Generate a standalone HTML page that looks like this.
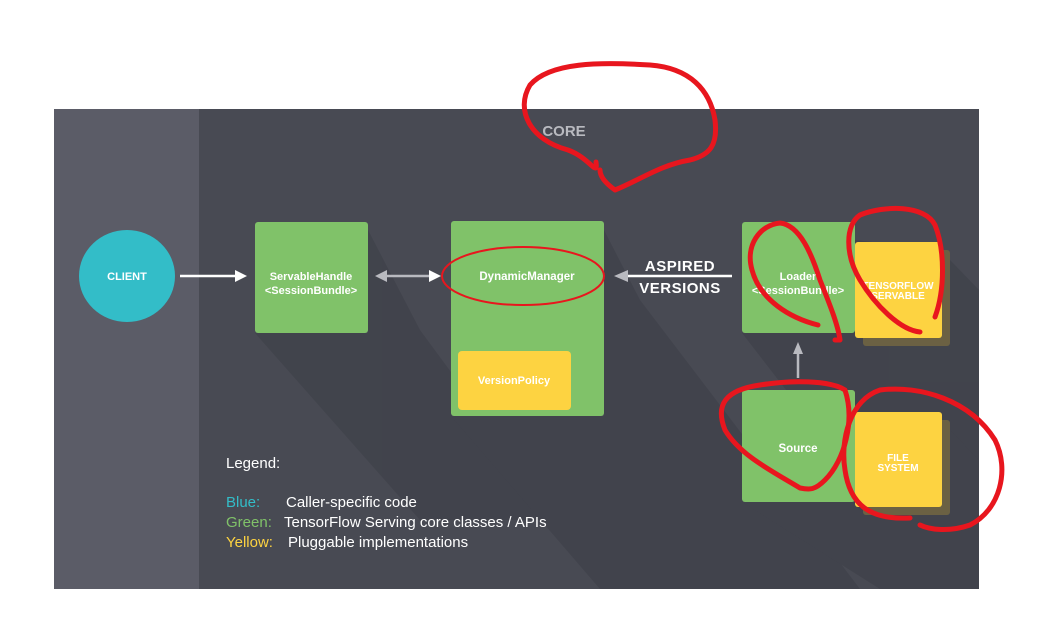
<!DOCTYPE html>
<html><head><meta charset="utf-8"><style>
html,body{margin:0;padding:0;background:#fff;width:1061px;height:620px;overflow:hidden}
svg{display:block}
text{font-family:"Liberation Sans",sans-serif}
</style></head><body>
<svg width="1061" height="620" viewBox="0 0 1061 620" xmlns="http://www.w3.org/2000/svg">
<defs>
<clipPath id="pc"><rect x="199" y="109" width="780" height="480"/></clipPath>
</defs>
<rect x="54" y="109" width="925" height="480" fill="#484a53"/>
<rect x="54" y="109" width="145" height="480" fill="#5b5c67"/>
<g clip-path="url(#pc)" fill="#40424b" opacity="0.8">
<polygon points="368,230 368,333 255,333 420,520 560,520 420,330"/>
<polygon points="604,230 604,416 451,416 600,589 860,589 640,300"/>
<polygon points="855,240 942,250 950,260 979,290 979,589 940,589 742,333"/>
<polygon points="950,430 979,460 979,589 880,589 742,502"/>
</g>
<ellipse cx="127" cy="276" rx="48" ry="46" fill="#33bdc8"/>
<text x="127" y="280" fill="#fff" font-size="11" font-weight="bold" text-anchor="middle">CLIENT</text>
<line x1="180" y1="276" x2="238" y2="276" stroke="#fff" stroke-width="2.5"/>
<polygon points="247,276 235,270 235,282" fill="#fff"/>
<text x="564" y="136" fill="#b9bac0" font-size="15" font-weight="bold" text-anchor="middle">CORE</text>
<rect x="255" y="222" width="113" height="111" rx="3" fill="#80c269"/>
<text x="311" y="280" fill="#fff" font-size="11" font-weight="bold" text-anchor="middle">ServableHandle</text>
<text x="311" y="294" fill="#fff" font-size="11" font-weight="bold" text-anchor="middle">&lt;SessionBundle&gt;</text>
<line x1="384" y1="276" x2="432" y2="276" stroke="#b9bac0" stroke-width="2.5"/>
<polygon points="375,276 387,270 387,282" fill="#b9bac0"/>
<polygon points="441,276 429,270 429,282" fill="#fff"/>
<rect x="451" y="221" width="153" height="195" rx="3" fill="#80c269"/>
<text x="527" y="280" fill="#fff" font-size="11.5" font-weight="bold" text-anchor="middle">DynamicManager</text>
<rect x="458" y="351" width="113" height="59" rx="4" fill="#fdd341"/>
<text x="514" y="384" fill="#fff" font-size="11" font-weight="bold" text-anchor="middle">VersionPolicy</text>
<line x1="626" y1="276" x2="732" y2="276" stroke="#fff" stroke-width="2.5"/>
<polygon points="614,276 628,270 628,282" fill="#b9bac0"/>
<text x="680" y="271" fill="#fff" font-size="15" font-weight="bold" text-anchor="middle" letter-spacing="0.5">ASPIRED</text>
<text x="680" y="293" fill="#fff" font-size="15" font-weight="bold" text-anchor="middle" letter-spacing="0.5">VERSIONS</text>
<rect x="742" y="222" width="113" height="111" rx="3" fill="#80c269"/>
<text x="798" y="280" fill="#fff" font-size="11" font-weight="bold" text-anchor="middle">Loader</text>
<text x="798" y="294" fill="#fff" font-size="11" font-weight="bold" text-anchor="middle">&lt;SessionBundle&gt;</text>
<rect x="863" y="250" width="87" height="96" rx="3" fill="#6b6143"/>
<rect x="855" y="242" width="87" height="96" rx="3" fill="#fdd341"/>
<text x="898" y="289" fill="#fff" font-size="10" font-weight="bold" text-anchor="middle">TENSORFLOW</text>
<text x="898" y="299" fill="#fff" font-size="10" font-weight="bold" text-anchor="middle">SERVABLE</text>
<line x1="798" y1="352" x2="798" y2="378" stroke="#b9bac0" stroke-width="2.5"/>
<polygon points="798,342 793,354 803,354" fill="#b9bac0"/>
<rect x="742" y="390" width="113" height="112" rx="3" fill="#80c269"/>
<text x="798" y="452" fill="#fff" font-size="11.5" font-weight="bold" text-anchor="middle">Source</text>
<rect x="863" y="420" width="87" height="95" rx="3" fill="#6b6143"/>
<rect x="855" y="412" width="87" height="95" rx="3" fill="#fdd341"/>
<text x="898" y="461" fill="#fff" font-size="10" font-weight="bold" text-anchor="middle">FILE</text>
<text x="898" y="471" fill="#fff" font-size="10" font-weight="bold" text-anchor="middle">SYSTEM</text>
<g font-size="15" fill="#fff">
<text x="226" y="468">Legend:</text>
<text x="226" y="507"><tspan fill="#33bdc8">Blue:</tspan><tspan x="286">Caller-specific code</tspan></text>
<text x="226" y="527"><tspan fill="#80c269">Green:</tspan><tspan x="284">TensorFlow Serving core classes / APIs</tspan></text>
<text x="226" y="547"><tspan fill="#fdd341">Yellow:</tspan><tspan x="288">Pluggable implementations</tspan></text>
</g>
<g fill="none" stroke="#e8161e" stroke-width="5" stroke-linecap="round" stroke-linejoin="round">
<path d="M596,162 C598,178 590,158 568,150 C530,140 515,110 530,85 C550,62 600,62 650,65 C690,68 710,90 715,120 C718,145 710,155 690,160 C660,165 640,180 615,190 C608,185 600,178 600,170"/>
<path d="M818,325 C790,318 760,300 752,270 C745,245 760,225 780,223 C800,225 812,255 820,280 C830,305 838,325 840,340 L835,340"/>
<path d="M935,317 C945,290 945,250 935,225 C925,205 885,205 860,215 C845,225 845,255 860,280 C875,305 900,330 920,332"/>
<path d="M800,488 C770,470 740,455 725,430 C715,405 725,390 760,385 C790,380 830,380 845,390 C855,420 845,460 825,480 C815,490 810,490 800,488"/>
<path d="M910,518 C870,520 850,505 845,470 C840,440 850,400 880,390 C920,385 970,400 995,440 C1010,470 1000,510 970,525 C950,532 930,530 920,525"/>
</g>
<ellipse cx="523" cy="276" rx="81" ry="29" fill="none" stroke="#e8161e" stroke-width="2"/>
</svg>
</body></html>
